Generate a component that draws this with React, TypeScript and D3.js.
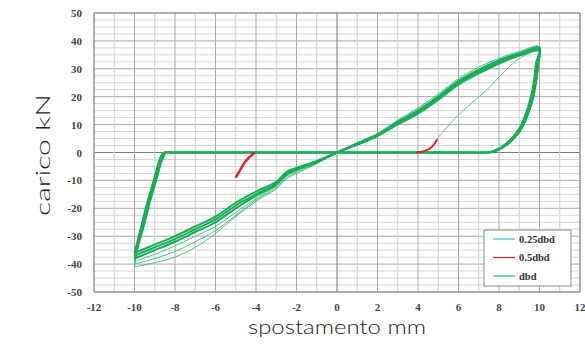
import React from "react";
import * as d3 from "d3";

// load-displacement loops
const reloadX = [-10, -9, -8, -7, -6, -5, -4, -3, -2.5, -2, -1, 0, 1, 2, 3, 4, 5, 6, 7, 8, 9, 10];
const dbdCycle1 = [-36, -33, -30, -26.5, -23, -18, -14, -10.5, -7, -5.5, -3, 0, 3, 6, 10.5, 14.5, 19.5, 25, 29, 32.5, 35, 37];
const dbdCycle2 = [-37, -34, -31, -27.5, -24, -19, -15, -11, -7.5, -6, -3.3, 0, 2.8, 6, 10.2, 14, 19, 24.5, 28.5, 32, 34.8, 36.5];
const dbdCycle3 = [-38, -35, -32, -28.5, -25, -20, -15.5, -11.5, -8, -6.2, -3.5, 0, 3.2, 6.3, 11, 15, 20, 25.5, 29.5, 33, 35.5, 37.5];
const thinCycle1 = [-39, -36.5, -33.5, -30, -26.5, -21.5, -16.5, -12, -8.5, -6.5, -3.7, 0, 3.4, 6.6, 11.3, 15.5, 20.5, 26, 30, 33.3, 35.8, 37.8];
const thinCycle2 = [-40, -38, -35.5, -32, -28, -22.5, -17, -12.5, -9, -7, -3.9, 0, 2.6, 5.7, 9.8, 13.6, 18.6, 24, 28, 31.6, 34.5, 36.2];
const thinCycle3 = [-41, -39.5, -37.5, -34, -29, -23, -17.5, -13, -9.5, -7.5, -4, 0, 3.6, 6.9, 11.6, 16, 21, 26.5, 30.6, 33.8, 36.2, 38];

const unloadPosX = [10, 9.95, 9.85, 9.7, 9.45, 9.15, 8.8, 8.4, 8.0, 7.7, 7.4, 6, 3, 0, -3, -6, -8.2];
const unloadPosY = [37, 32, 26, 20, 14, 9, 5.5, 2.8, 1, 0.2, 0, 0, 0, 0, 0, 0, 0];
const unloadNegX = [-8.5, -8.65, -8.8, -9.05, -9.35, -9.65, -10];
const unloadNegY = [0, -0.8, -3.5, -10, -17.5, -26, -36];

const firstLoadX = [4.9, 5.3, 6, 6.7, 7.4, 8, 8.7, 9.2, 10];
const firstLoadY = [4.5, 8, 13.5, 18, 22.5, 27, 32, 34.5, 37];
const halfNegX = [-4.05, -4.3, -4.55, -4.8, -5];
const halfNegY = [0, -1.5, -3.5, -6.5, -9];
const halfPosX = [3.9, 4.3, 4.6, 4.8, 4.95];
const halfPosY = [0, 0.5, 1.5, 3, 4.8];

const xTicks = d3.range(-12, 13, 2);
const yTicks = d3.range(-50, 51, 10);
const legendNames = ["0.25dbd", "0.5dbd", "dbd"];
const legendColors = ["#3fc6c4", "#e0201c", "#2fb08a"];

const W = 585;
const H = 346;
const x = d3.scaleLinear().domain([-12, 12]).range([94, 580]);
const y = d3.scaleLinear().domain([-50, 50]).range([292, 13]);

const lineGen = d3
  .line<number[]>()
  .x((d) => x(d[0]))
  .y((d) => y(d[1]))
  .curve(d3.curveCatmullRom.alpha(0.5));

const zip = (xs: number[], ys: number[]) => xs.map((v, i) => [v, ys[i]]);

// one full loop: reload along the backbone, unload, flat, drop to -10
const loop = (ys: number[], shift = 0) => {
  const pts = zip(reloadX, ys);
  const top = zip(unloadPosX, unloadPosY)
    .slice(1)
    .map((p) => (p[1] > 0 ? [p[0] - shift, p[1]] : p));
  const bottom = zip(unloadNegX, unloadNegY).map((p) => (p[1] < 0 ? [p[0] + shift, p[1]] : p));
  bottom[bottom.length - 1] = [-10, ys[0]];
  return pts.concat(top, bottom);
};

const App = () => {
  const gridX = d3.range(-12, 13, 1);
  const gridY = d3.range(-50, 50.1, 2.5);
  const font = "'Liberation Serif', serif";
  return (
    <svg width={W} height={H} style={{ position: "absolute", left: 0, top: 0, background: "#fff" }}>
      <rect x={0} y={0} width={W} height={H} fill="#fff" />
      {gridY.map((v) => (
        <line
          key={"gy" + v}
          x1={x(-12)}
          x2={x(12)}
          y1={y(v)}
          y2={y(v)}
          stroke={v === 0 ? "#7a7a7a" : v % 10 === 0 ? "#a8a8a8" : "#d6d6d6"}
          strokeWidth={1}
        />
      ))}
      {gridX.map((v) => (
        <line
          key={"gx" + v}
          x1={x(v)}
          x2={x(v)}
          y1={y(50)}
          y2={y(-50)}
          stroke={v === 0 ? "#7a7a7a" : v % 2 === 0 ? "#a8a8a8" : "#cfcfcf"}
          strokeWidth={1}
        />
      ))}
      <rect x={x(-12)} y={y(50)} width={x(12) - x(-12)} height={y(-50) - y(50)} fill="none" stroke="#8a8a8a" />

      {/* thin strands */}
      {[thinCycle1, thinCycle2, thinCycle3].map((c, i) => (
        <path key={"t" + i} d={lineGen(loop(c)) || ""} fill="none" stroke="#3cba7a" strokeWidth={0.9} />
      ))}
      <path d={lineGen(zip(firstLoadX, firstLoadY)) || ""} fill="none" stroke="#6aa890" strokeWidth={0.9} />
      {/* dbd cycles */}
      {[dbdCycle1, dbdCycle2, dbdCycle3].map((c, i) => (
        <path key={"d" + i} d={lineGen(loop(c, i * 0.06)) || ""} fill="none" stroke="#19ad55" strokeWidth={2} />
      ))}
      {/* 0.5dbd */}
      <path d={lineGen(zip(halfNegX, halfNegY)) || ""} fill="none" stroke="#e0201c" strokeWidth={2.4} />
      <path d={lineGen(zip(halfPosX, halfPosY)) || ""} fill="none" stroke="#e0201c" strokeWidth={2} />

      {yTicks.map((v) => (
        <text key={"yt" + v} x={82} y={y(v) + 4} textAnchor="end" fontFamily={font} fontWeight="bold" fontSize={11} fill="#444">
          {v}
        </text>
      ))}
      {xTicks.map((v) => (
        <text key={"xt" + v} x={x(v)} y={311} textAnchor="middle" fontFamily={font} fontWeight="bold" fontSize={11} fill="#444">
          {v}
        </text>
      ))}

      <text
        x={337}
        y={334}
        textAnchor="middle"
        fontFamily="Lato, sans-serif"
        fontWeight={300}
        fontSize={19}
        fill="#222"
        textLength={178}
        lengthAdjust="spacingAndGlyphs"
      >
        spostamento mm
      </text>
      <text
        transform="translate(50,155) rotate(-90)"
        textAnchor="middle"
        fontFamily="Lato, sans-serif"
        fontWeight={300}
        fontSize={20}
        fill="#222"
        textLength={122}
        lengthAdjust="spacingAndGlyphs"
      >
        carico kN
      </text>

      <g transform="translate(484,230)">
        <rect x={0} y={0} width={87} height={56} fill="#fff" stroke="#8a8a8a" />
        {legendNames.map((n, i) => (
          <g key={n} transform={`translate(0,${9 + i * 18.5})`}>
            <line x1={9} x2={31} y1={0} y2={0} stroke={legendColors[i]} strokeWidth={1.2} />
            <text x={35} y={3.5} fontFamily={font} fontWeight="bold" fontSize={10.5} fill="#333">
              {n}
            </text>
          </g>
        ))}
      </g>
    </svg>
  );
};

export default App;
